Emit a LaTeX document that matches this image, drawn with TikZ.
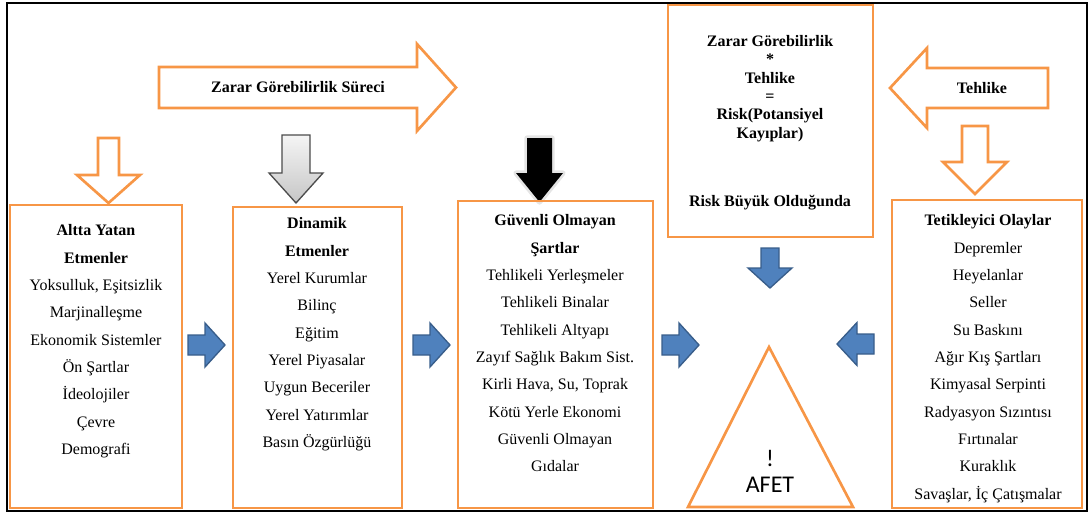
\documentclass[tikz,border=0pt]{standalone}
\usepackage{fontspec}
\setmainfont{Liberation Serif}
\newfontfamily\afetfont{Carlito}
\definecolor{afetorange}{HTML}{F79646}
\definecolor{okmavi}{HTML}{4F81BD}
\definecolor{okkenar}{HTML}{385D8A}
\tikzset{
    kutu/.style={draw=afetorange, line width=2pt},
    turuncuok/.style={draw=afetorange, line width=2pt, fill=white, line join=miter},
    maviok/.style={fill=okmavi, draw=okkenar, line width=1pt, line join=miter},
    liste/.style={align=center, inner sep=0pt, anchor=north, font=\fontsize{12}{20.5}\selectfont},
    baslik/.style={align=center, inner sep=0pt, font=\bfseries\fontsize{12}{13.8}\selectfont},
}

\begin{document}
\begin{tikzpicture}[x=0.75pt, y=-0.75pt]
\useasboundingbox (0,0) rectangle (1089,515);
\draw[line width=1.5pt] (7,3) rectangle (1087,511);

\draw[turuncuok] (159,67) -- (417,67) -- (417,44) -- (456,87.5) -- (417,131) -- (417,108) -- (159,108) -- cycle;
\node[baslik] (surec) at (298,87.5) {Zarar Görebilirlik Süreci};
\draw[turuncuok] (1048,68) -- (927,68) -- (927,48) -- (890,88) -- (927,128) -- (927,108) -- (1048,108) -- cycle;
\node[baslik] (tehlike) at (982,88) {Tehlike};
\draw[turuncuok] (962,126) -- (988,126) -- (988,162) -- (1007,162) -- (975,194) -- (943,162) -- (962,162) -- cycle;
\draw[turuncuok] (98,138) -- (119,138) -- (119,175) -- (140,175) -- (108.5,203) -- (77,175) -- (98,175) -- cycle;
\shadedraw[top color=gray!8, bottom color=gray!45, draw=gray!60!black, line width=1pt, line join=miter]
    (282,135) -- (310,135) -- (310,173) -- (323,173) -- (296,203) -- (269,173) -- (282,173) -- cycle;
\draw[gray!20, line width=4pt, line join=round] (527,138) -- (552,138) -- (552,173) -- (563,173) -- (539.5,202) -- (516,173) -- (527,173) -- cycle;
\fill[black] (527,138) -- (552,138) -- (552,173) -- (563,173) -- (539.5,202) -- (516,173) -- (527,173) -- cycle;

\draw[kutu] (668,5) rectangle (873,237);
\node[baslik, anchor=north] (risk) at (770,35) {Zarar Görebilirlik\\*\\Tehlike\\=\\Risk(Potansiyel\\Kayıplar)};
\node[baslik] (buyuk) at (770,203) {Risk Büyük Olduğunda};

\draw[kutu] (10,205) rectangle (182,508);
\node[liste] (altta) at (96,224.5) {\textbf{Altta Yatan}\\\textbf{Etmenler}\\Yoksulluk, Eşitsizlik\\Marjinalleşme\\Ekonomik Sistemler\\Ön Şartlar\\İdeolojiler\\Çevre\\Demografi};
\draw[kutu] (233,207) rectangle (402,508);
\node[liste] (dinamik) at (317,217.5) {\textbf{Dinamik}\\\textbf{Etmenler}\\Yerel Kurumlar\\Bilinç\\Eğitim\\Yerel Piyasalar\\Uygun Beceriler\\Yerel Yatırımlar\\Basın Özgürlüğü};
\draw[kutu] (458,201) rectangle (653,508);
\node[liste] (guvensiz) at (555,214.5) {\textbf{Güvenli Olmayan}\\\textbf{Şartlar}\\Tehlikeli Yerleşmeler\\Tehlikeli Binalar\\Tehlikeli Altyapı\\Zayıf Sağlık Bakım Sist.\\Kirli Hava, Su, Toprak\\Kötü Yerle Ekonomi\\Güvenli Olmayan\\Gıdalar};
\draw[kutu] (892,200) rectangle (1082,508);
\node[liste] (tetik) at (988,214.5) {\textbf{Tetikleyici Olaylar}\\Depremler\\Heyelanlar\\Seller\\Su Baskını\\Ağır Kış Şartları\\Kimyasal Serpinti\\Radyasyon Sızıntısı\\Fırtınalar\\Kuraklık\\Savaşlar, İç Çatışmalar};

\foreach \L in {188,413,662}
    \draw[maviok] (\L,335) -- (\L+17,335) -- (\L+17,323) -- (\L+37,345) -- (\L+17,367) -- (\L+17,355) -- (\L,355) -- cycle;
\draw[maviok] (874,334) -- (857,334) -- (857,322.5) -- (837,344) -- (857,365.5) -- (857,354) -- (874,354) -- cycle;
\draw[maviok] (761,248) -- (779,248) -- (779,268) -- (792,268) -- (770,288) -- (748,268) -- (761,268) -- cycle;

\draw[kutu, line join=miter] (769,347) -- (853,507) -- (688,507) -- cycle;
\node[font=\afetfont\fontsize{18}{22}\selectfont] (unlem) at (770,458) {!};
\node[font=\afetfont\fontsize{18}{22}\selectfont] (afet) at (770,485) {AFET};
\end{tikzpicture}
\end{document}
